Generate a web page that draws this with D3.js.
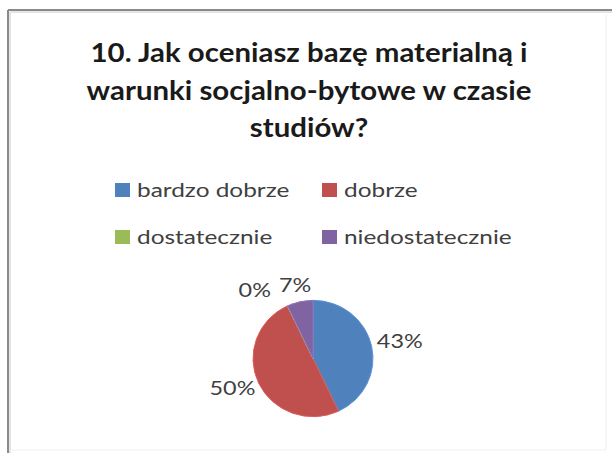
<!DOCTYPE html>
<html>
<head>
<meta charset="utf-8">
<script src="https://cdn.jsdelivr.net/npm/d3@7"></script>
<style>
  html, body { margin: 0; padding: 0; background: #fff; }
  svg { display: block; }
</style>
</head>
<body>
<svg id="chart" width="612" height="453"></svg>
<script>
// Survey answers and their shares (percent)
const categories = ["bardzo dobrze", "dobrze", "dostatecznie", "niedostatecznie"];
const shares = [43, 50, 0, 7];
const colors = ["#4F81BD", "#C0504D", "#9BBB59", "#8064A2"];
const titleLines = [
  "10. Jak oceniasz bazę materialną i",
  "warunki socjalno-bytowe w czasie",
  "studiów?"
];

const W = 612, H = 453;
const svg = d3.select("#chart");
const font = "Lato, 'Open Sans', sans-serif";

svg.append("rect").attr("width", W).attr("height", H).attr("fill", "#fff");

// chart frame
const frame = svg.append("g");
frame.append("line").attr("x1", 8).attr("y1", 10).attr("x2", W).attr("y2", 10)
  .attr("stroke", "#8a8a8a").attr("stroke-width", 2);
frame.append("line").attr("x1", 8).attr("y1", 10).attr("x2", 8).attr("y2", H)
  .attr("stroke", "#8a8a8a").attr("stroke-width", 2);
frame.append("line").attr("x1", 10).attr("y1", 12).attr("x2", W).attr("y2", 12)
  .attr("stroke", "#e4e4e4").attr("stroke-width", 2);
frame.append("line").attr("x1", 10).attr("y1", 12).attr("x2", 10).attr("y2", H)
  .attr("stroke", "#e4e4e4").attr("stroke-width", 2);
frame.append("line").attr("x1", 606).attr("y1", 14).attr("x2", 606).attr("y2", 450)
  .attr("stroke", "#f0f0f0").attr("stroke-width", 1);
frame.append("line").attr("x1", 10).attr("y1", 450).attr("x2", 606).attr("y2", 450)
  .attr("stroke", "#f0f0f0").attr("stroke-width", 1);

// title (set slightly wide)
const titleSx = 1.09;
svg.append("g").selectAll("text").data(titleLines).join("text")
  .attr("transform", (d, i) => `translate(309,${62 + i * 37.5}) scale(${titleSx},1)`)
  .attr("text-anchor", "middle")
  .attr("font-family", font).attr("font-weight", "bold").attr("font-size", 27)
  .attr("fill", "#1a1a1a")
  .text(d => d);

// legend: two columns, two rows
const legendCols = [115, 322];
const legendRows = [190, 237];
const legendSx = 1.22;
const legend = svg.append("g").selectAll("g").data(categories).join("g")
  .attr("transform", (d, i) => `translate(${legendCols[i % 2]},${legendRows[Math.floor(i / 2)]})`);
legend.append("rect")
  .attr("x", 0).attr("y", -7).attr("width", 15).attr("height", 14)
  .attr("fill", (d, i) => colors[i]);
legend.append("text")
  .attr("transform", `translate(22,7) scale(${legendSx},1)`)
  .attr("font-family", font).attr("font-size", 20).attr("fill", "#404040")
  .text(d => d);

// pie
const cx = 313, cy = 358.5, r = 60, yScale = 0.97;
const pie = d3.pie().sort(null).value(d => d)(shares);
const arc = d3.arc().innerRadius(0).outerRadius(r);

const pieG = svg.append("g").attr("transform", `translate(${cx},${cy}) scale(1,${yScale})`);
pieG.selectAll("path").data(pie).join("path")
  .attr("d", arc)
  .attr("fill", (d, i) => colors[i])
  .attr("stroke", (d, i) => d3.color(colors[i]).brighter(0.4))
  .attr("stroke-width", 1);

// data labels placed just outside each slice
const labelFont = 20, labelSx = 1.17, gap = 6;
const capH = 14, boxH = 18;
const labels = svg.append("g").attr("font-family", font).attr("font-size", labelFont).attr("fill", "#404040");
const boxes = [];
pie.forEach((d, i) => {
  const a = (d.startAngle + d.endAngle) / 2;
  const s = Math.sin(a), c = Math.cos(a);
  const ax = cx + (r + gap) * s;
  const ay = cy - (r + gap) * c * yScale;
  const t = labels.append("text").text(shares[i] + "%");
  const w = t.node().getBBox().width * labelSx;
  const left = ax - w * (1 - s) / 2;
  const top = ay - boxH * (1 + c) / 2;
  boxes.push({ t, left, top, w });
});
// push overlapping labels apart (later slices keep their place)
for (let i = boxes.length - 2; i >= 0; i--) {
  const b = boxes[i], n = boxes[i + 1];
  if (b.left < n.left + n.w + 8 && b.left + b.w > n.left - 8 &&
      b.top < n.top + boxH && b.top + boxH > n.top) {
    b.left = n.left - 8 - b.w;
  }
}
boxes.forEach(b => b.t.attr("transform", `translate(${b.left},${b.top + capH}) scale(${labelSx},1)`));
</script>
</body>
</html>
